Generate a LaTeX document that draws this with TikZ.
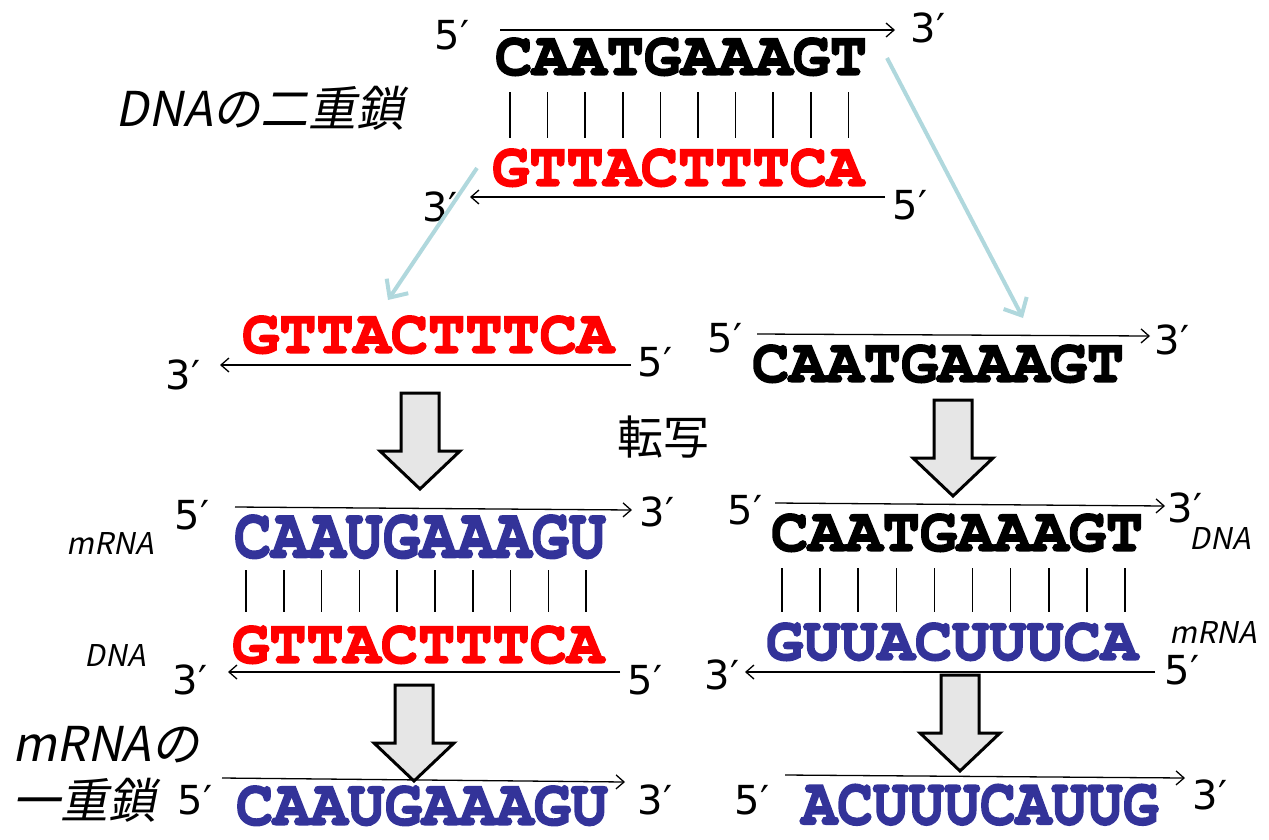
\documentclass[tikz,border=0pt]{standalone}
\usepackage[T1,TU]{fontenc}
\usepackage{fontspec}
\usetikzlibrary{arrows.meta}
\newcommand\seqfont{\fontencoding{T1}\fontfamily{pcr}\fontseries{b}\selectfont}
\newcommand\heavy[1]{\special{pdf:literal q 2 Tr 1.6 w}#1\special{pdf:literal Q}}
\newfontfamily\primefont{DejaVu Sans}
\newfontfamily\jpfont{Noto Sans CJK JP}
\newfontfamily\jpslant[FakeSlant=0.2]{Noto Sans CJK JP}
\definecolor{rnablue}{RGB}{51,51,153}
\definecolor{paleblue}{RGB}{176,216,221}
\definecolor{boxgray}{RGB}{230,230,230}
% big down arrow: top centre x, top y
\newcommand\downblock[3]{%
  \draw[line width=3pt, fill=boxgray, line join=miter] (#1-19,#2) -- (#1+19,#2) -- (#1+19,#2+58)
    -- (#1+40,#2+58) -- (#1,#2+96) -- (#1-40,#2+58) -- (#1-19,#2+58) -- cycle;
  \coordinate (#3) at (#1,#2+96);}
\begin{document}
\begin{tikzpicture}[x=1pt,y=-1pt]
  \tikzstyle{seq}=[font=\fontsize{62}{62}\seqfont, inner sep=0pt]
  \tikzstyle{dnaseq}=[seq, text=black]
  \tikzstyle{compseq}=[seq, text=red]
  \tikzstyle{rnaseq}=[seq, text=rnablue]
  \tikzstyle{endlabel}=[font=\primefont\fontsize{40}{40}\selectfont, inner sep=0pt]
  \tikzstyle{strand}=[-{Straight Barb[length=8pt,width=14pt]}, line width=1.3pt]
  \tikzstyle{pairbar}=[line width=1.6pt]
  \tikzstyle{copyarrow}=[line width=4pt, draw=paleblue, -{Straight Barb[length=14pt,width=26pt]}]
  \tikzstyle{jplabel}=[font=\jpslant\fontsize{48}{48}\selectfont, inner sep=0pt]
  \tikzstyle{smalllabel}=[font=\jpslant\fontsize{30}{30}\selectfont, inner sep=0pt]
  \useasboundingbox (0,0) rectangle (1269,839);

  % DNA double strand
  \node[jplabel] (dsname) at (260,108) {DNAの二重鎖};
  \node[endlabel] (topfive) at (452,35) {5′};
  \node[endlabel] (topthree) at (928,28) {3′};
  \coordinate (topL) at (500,30); \coordinate (topR) at (895,30);
  \draw[strand] (topL) -- (topR);
  \node[dnaseq] (topseq) at (681,57) {\heavy{CAATGAAAGT}};
  \foreach \i in {0,...,9} \draw[pairbar] (510+\i*37.6,92) -- (510+\i*37.6,138);
  \node[compseq] (topcomp) at (678,168) {\heavy{GTTACTTTCA}};
  \coordinate (botR) at (885,197); \coordinate (botL) at (470,197);
  \draw[strand] (botR) -- (botL);
  \node[endlabel] (botthree) at (440,207) {3′};
  \node[endlabel] (botfive) at (910,205) {5′};

  % strands separate
  \coordinate (sepLa) at (477,168); \coordinate (sepLb) at (388,300);
  \coordinate (sepRa) at (887,58); \coordinate (sepRb) at (1023,318);
  \draw[copyarrow] (sepLa) -- (sepLb);
  \draw[copyarrow] (sepRa) -- (sepRb);

  \node[compseq] (midcomp) at (428,335) {\heavy{GTTACTTTCA}};
  \coordinate (midLr) at (631,365); \coordinate (midLl) at (220,365);
  \draw[strand] (midLr) -- (midLl);
  \node[endlabel] (midLthree) at (183,375) {3′};
  \node[endlabel] (midLfive) at (655,362) {5′};

  \node[endlabel] (midRfive) at (725,338) {5′};
  \coordinate (midRl) at (757,334); \coordinate (midRr) at (1150,336);
  \draw[strand] (midRl) -- (midRr);
  \node[endlabel] (midRthree) at (1172,340) {3′};
  \node[dnaseq] (midseq) at (938,364) {\heavy{CAATGAAAGT}};

  \node[font=\jpfont\fontsize{46}{46}\selectfont, inner sep=0pt] (tenshanode) at (663,437) {転写};
  \downblock{420}{393}{tipA}
  \downblock{953}{400}{tipB}

  % transcription, left
  \node[smalllabel] (lmrna) at (110,543) {mRNA};
  \node[endlabel] (lofive) at (192,515) {5′};
  \coordinate (loAl) at (235,507); \coordinate (loAr) at (632,510);
  \draw[strand] (loAl) -- (loAr);
  \node[endlabel] (lothree) at (657,512) {3′};
  \node[rnaseq, yscale=1.15] (lornaseq) at (420,537) {\heavy{CAAUGAAAGU}};
  \foreach \i in {0,...,9} \draw[pairbar] (246+\i*37.8,570) -- (246+\i*37.8,612);
  \node[compseq] (locomp) at (418,645) {\heavy{GTTACTTTCA}};
  \node[smalllabel] (ldna) at (115,655) {DNA};
  \coordinate (loBr) at (620,672); \coordinate (loBl) at (228,672);
  \draw[strand] (loBr) -- (loBl);
  \node[endlabel] (loBthree) at (190,680) {3′};
  \node[endlabel] (loBfive) at (645,680) {5′};

  % transcription, right
  \node[endlabel] (rofive) at (745,510) {5′};
  \coordinate (roAl) at (775,503); \coordinate (roAr) at (1165,506);
  \draw[strand] (roAl) -- (roAr);
  \node[endlabel] (rothree) at (1185,508) {3′};
  \node[smalllabel] (rdna) at (1220,538) {DNA};
  \node[dnaseq] (roseq) at (957,533) {\heavy{CAATGAAAGT}};
  \foreach \i in {0,...,9} \draw[pairbar] (782+\i*38.1,568) -- (782+\i*38.1,612);
  \node[rnaseq] (rornaseq) at (952,642) {\heavy{GUUACUUUCA}};
  \node[smalllabel] (rmrna) at (1213,632) {mRNA};
  \coordinate (roBr) at (1155,672); \coordinate (roBl) at (745,672);
  \draw[strand] (roBr) -- (roBl);
  \node[endlabel] (roBthree) at (722,675) {3′};
  \node[endlabel] (roBfive) at (1182,670) {5′};

  \downblock{414}{685}{tipC}
  \downblock{960}{675}{tipD}

  % single strand mRNA
  \node[jplabel, anchor=west] (ssnameA) at (12,745) {mRNAの};
  \node[jplabel, anchor=west] (ssnameB) at (12,800) {一重鎖};
  \node[endlabel] (ssLfive) at (195,800) {5′};
  \coordinate (ssLl) at (222,778); \coordinate (ssLr) at (625,782);
  \draw[strand] (ssLl) -- (ssLr);
  \node[endlabel] (ssLthree) at (655,800) {3′};
  \node[rnaseq, yscale=1.05] (ssLseq) at (422,806) {\heavy{CAAUGAAAGU}};
  \node[endlabel] (ssRfive) at (752,800) {5′};
  \coordinate (ssRl) at (785,775); \coordinate (ssRr) at (1185,778);
  \draw[strand] (ssRl) -- (ssRr);
  \node[endlabel] (ssRthree) at (1210,795) {3′};
  \node[rnaseq, xscale=0.96, yscale=1.08] (ssRseq) at (980,805) {\heavy{ACUUUCAUUG}};
\end{tikzpicture}
\end{document}
